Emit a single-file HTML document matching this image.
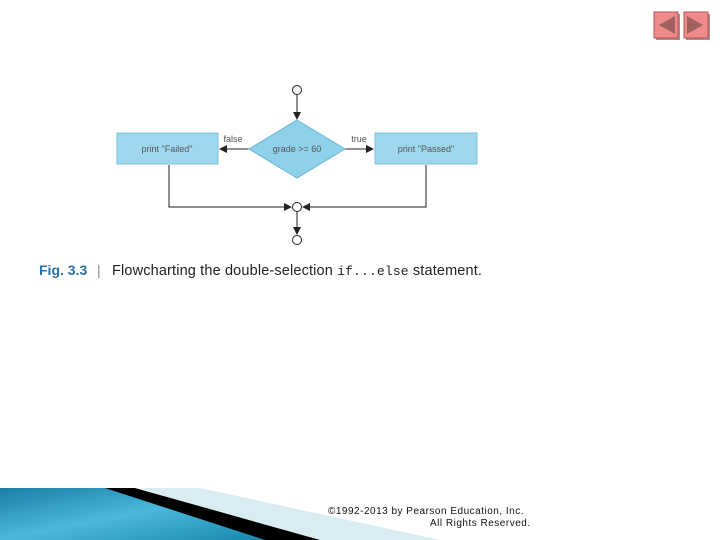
<!DOCTYPE html>
<html><head><style>
body{margin:0;width:720px;height:540px;background:#fff;overflow:hidden;position:relative;font-family:"Liberation Sans",sans-serif}
</style></head><body>
<svg width="720" height="540" style="position:absolute;left:0;top:0">
<defs>
<linearGradient id="bl" x1="0" y1="0" x2="1" y2="1"><stop offset="0" stop-color="#1a7fa8"/><stop offset="0.5" stop-color="#4ab8dc"/><stop offset="1" stop-color="#1788ad"/></linearGradient>
<marker id="a" markerWidth="8" markerHeight="8" refX="7" refY="4" orient="auto" markerUnits="userSpaceOnUse"><path d="M0,0 L8,4 L0,8z" fill="#222"/></marker>
</defs>
<rect x="656" y="14" width="24" height="26" fill="#b88"/>
<rect x="654" y="12" width="24" height="26" fill="#f08a8a" stroke="#a55"/>
<path d="M659,25 L675,16 L675,34z" fill="#a06060"/>
<rect x="686" y="14" width="24" height="26" fill="#b88"/>
<rect x="684" y="12" width="24" height="26" fill="#f08a8a" stroke="#a55"/>
<path d="M703,25 L687,16 L687,34z" fill="#a06060"/>
<g stroke="#222" stroke-width="1" fill="none">
<circle cx="297" cy="90" r="4.5" fill="#fff"/>
<line x1="297" y1="95" x2="297" y2="119" marker-end="url(#a)"/>
<line x1="249" y1="149" x2="220" y2="149" marker-end="url(#a)"/>
<line x1="345" y1="149" x2="373" y2="149" marker-end="url(#a)"/>
<polyline points="169,165 169,207 291,207" marker-end="url(#a)"/>
<polyline points="426,165 426,207 303,207" marker-end="url(#a)"/>
<circle cx="297" cy="207" r="4.5" fill="#fff"/>
<line x1="297" y1="212" x2="297" y2="234" marker-end="url(#a)"/>
<circle cx="297" cy="240" r="4.5" fill="#fff"/>
</g>
<rect x="117" y="133" width="101" height="31" fill="#9fd8ee" stroke="#7cc0da"/>
<rect x="375" y="133" width="102" height="31" fill="#9fd8ee" stroke="#7cc0da"/>
<path d="M297,120 L345,149 L297,178 L249,149z" fill="#8fd0ea" stroke="#6cb8d8"/>
<g font-size="9" fill="#555" text-anchor="middle">
<text x="167" y="152">print "Failed"</text>
<text x="426" y="152">print "Passed"</text>
<text x="297" y="152">grade &gt;= 60</text>
<text x="233" y="142">false</text>
<text x="359" y="142">true</text>
</g>
<text x="39" y="275" font-size="14" fill="#2a6fa8" font-weight="bold">Fig. 3.3</text>
<text x="97" y="275" font-size="14" fill="#888">|</text>
<text x="112" y="275" font-size="14.5" fill="#222" letter-spacing="0.15">Flowcharting the double-selection <tspan font-family="Liberation Mono" font-size="13">if...else</tspan> statement.</text>
<path d="M0,488 L110,488 L265,540 L0,540z" fill="url(#bl)"/>
<path d="M140,488 L200,488 L440,540 L300,540z" fill="#d8ecf2"/>
<path d="M105,488 L135,488 L320,540 L265,540z" fill="#000"/>
<text x="328" y="514" font-size="10" fill="#111" letter-spacing="0.5">©1992-2013 by Pearson Education, Inc.</text>
<text x="430" y="526" font-size="10" fill="#111" letter-spacing="0.5">All Rights Reserved.</text>
</svg>
</body></html>
